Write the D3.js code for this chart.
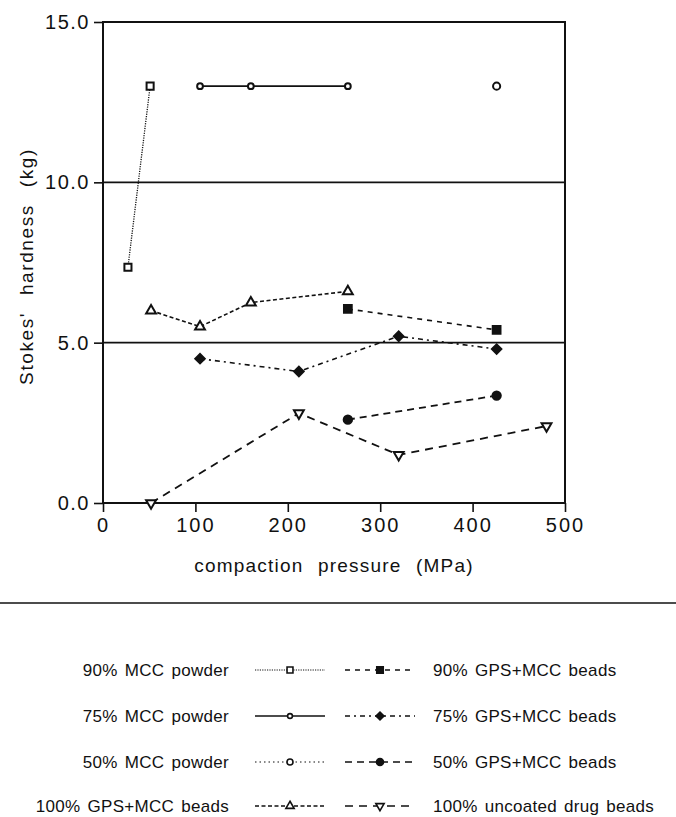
<!DOCTYPE html>
<html>
<head>
<meta charset="utf-8">
<script src="https://cdn.jsdelivr.net/npm/d3@7"></script>
<style>
  body { margin: 0; background: #fff; }
  text { font-family: "Liberation Sans", Arial, sans-serif; fill: #111; }
</style>
</head>
<body>
<svg width="676" height="817"></svg>
<script>
// compaction pressure (MPa) and Stokes' hardness (kg)
const mcc90PowderX = [27, 51];
const mcc90PowderY = [7.35, 13.0];
const mcc75PowderX = [105, 160, 265];
const mcc75PowderY = [13.0, 13.0, 13.0];
const mcc50PowderX = [426];
const mcc50PowderY = [13.0];
const gps100BeadsX = [52, 105, 160, 265];
const gps100BeadsY = [6.0, 5.5, 6.25, 6.6];
const gps90BeadsX = [265, 426];
const gps90BeadsY = [6.05, 5.4];
const gps75BeadsX = [105, 212, 320, 426];
const gps75BeadsY = [4.5, 4.1, 5.2, 4.8];
const gps50BeadsX = [265, 426];
const gps50BeadsY = [2.6, 3.35];
const uncoatedX = [52, 212, 320, 480];
const uncoatedY = [0.0, 2.8, 1.5, 2.4];

const xTicks = [0, 100, 200, 300, 400, 500];
const yTicks = [0, 5, 10, 15];
const gridValues = [5, 10];

const seriesNames = [
  '90% MCC powder', '75% MCC powder', '50% MCC powder', '100% GPS+MCC beads',
  '90% GPS+MCC beads', '75% GPS+MCC beads', '50% GPS+MCC beads', '100% uncoated drug beads'
];

(function (d3) {
  const toPoints = (xs, ys) => xs.map((x, i) => ({ x, y: ys[i] }));

  // style per series: marker, fill, dash pattern
  const series = [
    { name: seriesNames[0], pts: toPoints(mcc90PowderX, mcc90PowderY), sym: d3.symbolSquare, size: 50, filled: false, dash: '1.2,1.2', lw: 1.3 },
    { name: seriesNames[1], pts: toPoints(mcc75PowderX, mcc75PowderY), sym: d3.symbolCircle, size: 26, filled: false, dash: null, lw: 1.6 },
    { name: seriesNames[2], pts: toPoints(mcc50PowderX, mcc50PowderY), sym: d3.symbolCircle, size: 40, filled: false, dash: '1.5,3', lw: 1.3 },
    { name: seriesNames[3], pts: toPoints(gps100BeadsX, gps100BeadsY), sym: d3.symbolTriangle, size: 42, filled: false, dash: '4,2.5', lw: 1.6 },
    { name: seriesNames[4], pts: toPoints(gps90BeadsX, gps90BeadsY), sym: d3.symbolSquare, size: 60, filled: true, dash: '5,5', lw: 1.6 },
    { name: seriesNames[5], pts: toPoints(gps75BeadsX, gps75BeadsY), sym: d3.symbolSquare, size: 45, filled: true, dash: '5,4,2,4', lw: 1.6, rot: 45 },
    { name: seriesNames[6], pts: toPoints(gps50BeadsX, gps50BeadsY), sym: d3.symbolCircle, size: 55, filled: true, dash: '7,5', lw: 1.8 },
    { name: seriesNames[7], pts: toPoints(uncoatedX, uncoatedY), sym: d3.symbolTriangle, size: 42, filled: false, dash: '8,6', lw: 1.8, rot: 180 }
  ];

  const svg = d3.select('svg');
  const plotLeft = 103, plotRight = 565, plotTop = 22, plotBottom = 503;

  const x = d3.scaleLinear().domain([0, 500]).range([plotLeft, plotRight]);
  const y = d3.scaleLinear().domain([0, 15]).range([plotBottom, plotTop]);

  // grid lines
  svg.selectAll('.grid').data(gridValues).enter().append('line')
    .attr('x1', plotLeft).attr('x2', plotRight)
    .attr('y1', d => y(d)).attr('y2', d => y(d))
    .attr('stroke', '#111').attr('stroke-width', 1.6);

  // frame
  svg.append('rect')
    .attr('x', plotLeft).attr('y', plotTop)
    .attr('width', plotRight - plotLeft).attr('height', plotBottom - plotTop)
    .attr('fill', 'none').attr('stroke', '#111').attr('stroke-width', 2);

  const yAxisG = svg.append('g')
    .attr('transform', `translate(${plotLeft},0)`)
    .call(d3.axisLeft(y).tickValues(yTicks).tickFormat(d3.format('.1f')).tickSize(9).tickPadding(4));
  yAxisG.select('.domain').remove();
  yAxisG.selectAll('line').attr('stroke', '#111').attr('stroke-width', 1.6);
  yAxisG.selectAll('text')
    .style('font-size', '20px').style('letter-spacing', '1.5px')
    .attr('font-family', null).attr('fill', '#111');

  const xAxisG = svg.append('g')
    .attr('transform', `translate(0,${plotBottom})`)
    .call(d3.axisBottom(x).tickValues(xTicks).tickFormat(d3.format('d')).tickSize(9).tickPadding(6));
  xAxisG.select('.domain').remove();
  xAxisG.selectAll('line').attr('stroke', '#111').attr('stroke-width', 1.6);
  xAxisG.selectAll('text')
    .style('font-size', '20px').style('letter-spacing', '2px')
    .attr('font-family', null).attr('fill', '#111');

  svg.append('text')
    .attr('transform', `translate(33,${(plotTop + plotBottom) / 2 + 4}) rotate(-90)`)
    .attr('text-anchor', 'middle')
    .style('font-size', '19px').style('letter-spacing', '1.6px').style('word-spacing', '10px')
    .text("Stokes' hardness (kg)");

  svg.append('text')
    .attr('x', (plotLeft + plotRight) / 2).attr('y', 572)
    .attr('text-anchor', 'middle')
    .style('font-size', '19px').style('letter-spacing', '1.2px').style('word-spacing', '8px')
    .text('compaction pressure (MPa)');

  // data lines and markers
  const line = d3.line().x(d => x(d.x)).y(d => y(d.y));
  const markerPath = (s, k) => d3.symbol().type(s.sym).size(s.size * k)();
  const rotation = s => s.rot ? ` rotate(${s.rot})` : '';

  series.forEach(s => {
    const g = svg.append('g');
    if (s.pts.length > 1) {
      g.append('path')
        .datum(s.pts)
        .attr('d', line)
        .attr('fill', 'none')
        .attr('stroke', '#111')
        .attr('stroke-width', s.lw)
        .attr('stroke-dasharray', s.dash);
    }
    g.selectAll('path.mk').data(s.pts).enter().append('path')
      .attr('class', 'mk')
      .attr('d', markerPath(s, 1))
      .attr('transform', d => `translate(${x(d.x)},${y(d.y)})${rotation(s)}`)
      .attr('fill', s.filled ? '#111' : '#fff')
      .attr('stroke', '#111')
      .attr('stroke-width', 2);
  });

  // legend
  svg.append('line')
    .attr('x1', 0).attr('x2', 676).attr('y1', 603).attr('y2', 603)
    .attr('stroke', '#111').attr('stroke-width', 1.4);

  const rowY = [670, 716, 762, 806];
  const legendLeft = series.slice(0, 4);
  const legendRight = series.slice(4);

  const drawSample = (s, x1, x2, yy) => {
    svg.append('line')
      .attr('x1', x1).attr('x2', x2).attr('y1', yy).attr('y2', yy)
      .attr('stroke', '#111').attr('stroke-width', s.lw * 0.8)
      .attr('stroke-dasharray', s.dash);
    svg.append('path')
      .attr('d', markerPath(s, 0.7))
      .attr('transform', `translate(${(x1 + x2) / 2},${yy})${rotation(s)}`)
      .attr('fill', s.filled ? '#111' : '#fff')
      .attr('stroke', '#111').attr('stroke-width', 1.6);
  };

  legendLeft.forEach((s, i) => {
    svg.append('text')
      .attr('x', 229).attr('y', rowY[i]).attr('dy', '0.35em')
      .attr('text-anchor', 'end')
      .style('font-size', '17px').style('letter-spacing', '0.3px').style('word-spacing', '2px')
      .text(s.name);
    drawSample(s, 255, 325, rowY[i]);
  });

  legendRight.forEach((s, i) => {
    svg.append('text')
      .attr('x', 433).attr('y', rowY[i]).attr('dy', '0.35em')
      .style('font-size', '17px').style('letter-spacing', '0.3px').style('word-spacing', '2px')
      .text(s.name);
    drawSample(s, 345, 415, rowY[i]);
  });
}(d3));
</script>
</body>
</html>
